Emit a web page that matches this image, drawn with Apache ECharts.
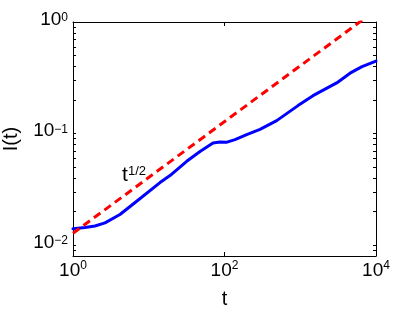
<!DOCTYPE html>
<html><head><meta charset="utf-8">
<script src="https://cdn.jsdelivr.net/npm/echarts@6/dist/echarts.min.js"></script>
<style>html,body{margin:0;padding:0;background:#fff}#c{width:415px;height:313px}</style>
</head><body><div id="c"></div>
<script>
// Data
const tValues = [1, 1.44, 1.95, 2.645, 4.17, 6.93, 14.08, 19.08, 31.7, 47.5, 70.5, 87.2, 107.9, 137.6, 196.3, 294, 489, 934, 1473, 3027, 4539, 6534, 10000];
const iValues = [0.01403, 0.0144, 0.01486, 0.01586, 0.01883, 0.02477, 0.0364, 0.04207, 0.05649, 0.06902, 0.08222, 0.08394, 0.08375, 0.08837, 0.09795, 0.109, 0.1307, 0.1781, 0.2188, 0.2844, 0.3479, 0.398, 0.4457];
const refT = [1, 10000];
const refI = [0.0128, 1.28];
const xTickValues = [1, 100, 10000];
const yLabelValues = [0.01, 0.1, 1];
const yTickValues = [0.008, 0.009, 0.01, 0.02, 0.03, 0.04, 0.05, 0.06, 0.07, 0.08, 0.09, 0.1, 0.2, 0.3, 0.4, 0.5, 0.6, 0.7, 0.8, 0.9, 1];
const annotText = 't';
const annotSup = '1/2';
const annotPos = [6.4, 0.0425];

const FONT = 'Liberation Sans, Arial, sans-serif';
const expFmt = v => '{b|10}{s|' + Math.round(Math.log10(v)).toString().replace('-', '\u2212') + '}';
const lineColor = '#000';

const chart = echarts.init(document.getElementById('c'), null, {renderer: 'canvas'});
const commonX = {
  type: 'log', logBase: 10, min: 1, max: 10000,
  axisLine: {show: true, lineStyle: {color: lineColor, width: 1}},
  splitLine: {show: false}, minorTick: {show: false}, minorSplitLine: {show: false}
};
const commonY = {
  type: 'log', logBase: 10, min: 0.008, max: 1,
  axisLine: {show: true, lineStyle: {color: lineColor, width: 1}},
  splitLine: {show: false}, minorTick: {show: false}, minorSplitLine: {show: false}
};
const option = {
  animation: false,
  backgroundColor: '#fff',
  grid: {left: 73, right: 39, top: 22, bottom: 57, containLabel: false, outerBoundsMode: 'none'},
  xAxis: [
    Object.assign({}, commonX, {
      position: 'bottom',
      name: 't', nameLocation: 'middle', nameGap: 33,
      nameTextStyle: {fontFamily: FONT, fontSize: 20, color: '#000'},
      axisTick: {show: true, inside: true, length: 4, customValues: xTickValues, lineStyle: {color: lineColor}},
      axisLabel: {show: true, customValues: xTickValues, margin: 4, formatter: expFmt, color: '#000', fontFamily: FONT,
        rich: {
          b: {fontFamily: FONT, fontSize: 19, lineHeight: 20, padding: [9, 0, 0, 0], verticalAlign: 'bottom', color: '#000'},
          s: {fontFamily: FONT, fontSize: 12, lineHeight: 13, verticalAlign: 'top', color: '#000'}
        }}
    }),
    Object.assign({}, commonX, {
      position: 'top',
      axisTick: {show: true, inside: true, length: 4, customValues: xTickValues, lineStyle: {color: lineColor}},
      axisLabel: {show: false}
    })
  ],
  yAxis: [
    Object.assign({}, commonY, {
      position: 'left',
      name: 'I(t)', nameLocation: 'middle', nameGap: 52,
      nameTextStyle: {fontFamily: FONT, fontSize: 20, color: '#000'},
      axisTick: {show: true, inside: true, length: 3, customValues: yTickValues, lineStyle: {color: lineColor}},
      axisLabel: {show: true, customValues: yLabelValues, margin: 5, formatter: expFmt, color: '#000', fontFamily: FONT,
        rich: {
          b: {fontFamily: FONT, fontSize: 19, lineHeight: 20, padding: [6, 0, 3, 0], verticalAlign: 'bottom', color: '#000'},
          s: {fontFamily: FONT, fontSize: 12, lineHeight: 13, verticalAlign: 'top', color: '#000'}
        }}
    }),
    Object.assign({}, commonY, {
      position: 'right',
      axisTick: {show: true, inside: true, length: 3, customValues: yTickValues, lineStyle: {color: lineColor}},
      axisLabel: {show: false}
    })
  ],
  series: [
    {
      type: 'line', xAxisIndex: 0, yAxisIndex: 0,
      data: tValues.map((t, i) => [t, iValues[i]]),
      showSymbol: false, symbol: 'none', smooth: false, clip: true,
      lineStyle: {color: '#0000ff', width: 3, join: 'round', cap: 'round'}
    },
    {
      type: 'line', xAxisIndex: 0, yAxisIndex: 0,
      data: refT.map((t, i) => [t, refI[i]]),
      showSymbol: false, symbol: 'none', clip: true,
      lineStyle: {color: '#ff0000', width: 3, type: [8, 5]},
      markPoint: {
        symbol: 'circle', symbolSize: 1, silent: true,
        itemStyle: {color: 'rgba(0,0,0,0)'},
        label: {show: true, position: 'inside', formatter: '{b|' + annotText + '}{s|' + annotSup + '}',
          rich: {
            b: {fontFamily: FONT, fontSize: 21, lineHeight: 21, padding: [9, 0, 0, 0], verticalAlign: 'bottom', color: '#000'},
            s: {fontFamily: FONT, fontSize: 13, lineHeight: 14, verticalAlign: 'top', color: '#000'}
          }},
        data: [{coord: annotPos}]
      }
    }
  ]
};
chart.setOption(option);
</script>
</body></html>
